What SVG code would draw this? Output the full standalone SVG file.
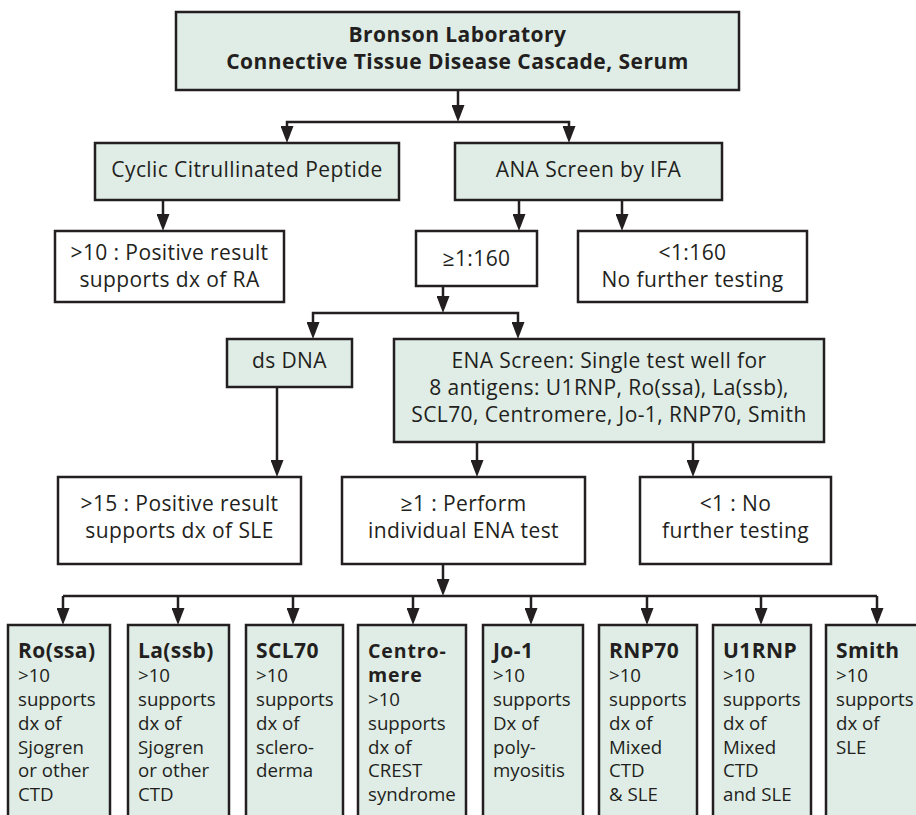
<svg xmlns="http://www.w3.org/2000/svg" width="916" height="815" viewBox="0 0 916 815">
<style>
.g{fill:#dfede6;stroke:#231f20;stroke-width:2.5}
.w{fill:#ffffff;stroke:#231f20;stroke-width:2.5}
text{font-family:"Open Sans","Noto Sans","Liberation Sans",sans-serif;fill:#231f20}
.m{font-size:21px;letter-spacing:0.4px;text-anchor:middle}
.t{font-size:21px;letter-spacing:0.45px;font-weight:bold;text-anchor:middle}
.s{font-size:18.7px}
.b{font-size:21px;letter-spacing:0.4px;font-weight:bold}
.bc{font-size:19.5px;letter-spacing:0.9px;font-weight:bold}
.c{fill:none;stroke:#231f20;stroke-width:2.5}
</style>
<defs>
<marker id="ah" markerUnits="userSpaceOnUse" viewBox="0 0 17 13" markerWidth="17" markerHeight="13" refX="9" refY="6.5" orient="auto">
<path d="M0,0 L17,6.5 L0,13 z" fill="#231f20"/>
</marker>
</defs>
<rect width="916" height="815" fill="#ffffff"/>
<g id="connectors">
<path class="c" d="M458,90 V114" marker-end="url(#ah)"/>
<path class="c" d="M458,122 H287 V135" marker-end="url(#ah)"/>
<path class="c" d="M458,122 H569 V135" marker-end="url(#ah)"/>
<path class="c" d="M163,200 V223" marker-end="url(#ah)"/>
<path class="c" d="M519,200 V223" marker-end="url(#ah)"/>
<path class="c" d="M622,200 V223" marker-end="url(#ah)"/>
<path class="c" d="M443,286 V305" marker-end="url(#ah)"/>
<path class="c" d="M443,313 H313 V331" marker-end="url(#ah)"/>
<path class="c" d="M443,313 H518 V331" marker-end="url(#ah)"/>
<path class="c" d="M277,387 V469" marker-end="url(#ah)"/>
<path class="c" d="M477,442 V469" marker-end="url(#ah)"/>
<path class="c" d="M693,442 V469" marker-end="url(#ah)"/>
<path class="c" d="M443,564 V588" marker-end="url(#ah)"/>
<path class="c" d="M63,596 H877"/>
<path class="c" d="M63,596 V617" marker-end="url(#ah)"/>
<path class="c" d="M178,596 V617" marker-end="url(#ah)"/>
<path class="c" d="M293,596 V617" marker-end="url(#ah)"/>
<path class="c" d="M413,596 V617" marker-end="url(#ah)"/>
<path class="c" d="M531,596 V617" marker-end="url(#ah)"/>
<path class="c" d="M647,596 V617" marker-end="url(#ah)"/>
<path class="c" d="M761,596 V617" marker-end="url(#ah)"/>
<path class="c" d="M877,596 V617" marker-end="url(#ah)"/>
</g>
<g id="title">
<rect class="g" x="176" y="12" width="563" height="78"/>
<text class="t" x="457.5" y="41.5">Bronson Laboratory</text>
<text class="t" x="457.5" y="68.5">Connective Tissue Disease Cascade, Serum</text>
</g>
<g id="ccp">
<rect class="g" x="95" y="143" width="304" height="57"/>
<text class="m" x="247" y="177">Cyclic Citrullinated Peptide</text>
</g>
<g id="ana">
<rect class="g" x="455" y="143" width="267" height="57"/>
<text class="m" x="588.5" y="177">ANA Screen by IFA</text>
</g>
<g id="ccp-pos">
<rect class="w" x="55" y="231" width="229" height="71"/>
<text class="m" x="169.5" y="260">&gt;10 : Positive result</text>
<text class="m" x="169.5" y="287">supports dx of RA</text>
</g>
<g id="ana-pos">
<rect class="w" x="416" y="231" width="121" height="55"/>
<text class="m" x="476.5" y="266">≥1:160</text>
</g>
<g id="ana-neg">
<rect class="w" x="578" y="231" width="229" height="71"/>
<text class="m" x="692.5" y="260">&lt;1:160</text>
<text class="m" x="692.5" y="287">No further testing</text>
</g>
<g id="dsdna">
<rect class="g" x="227" y="339" width="125" height="48"/>
<text class="m" x="289.5" y="368">ds DNA</text>
</g>
<g id="ena">
<rect class="g" x="394" y="339" width="430" height="103"/>
<text class="m" x="609" y="368">ENA Screen: Single test well for</text>
<text class="m" x="609" y="395">8 antigens: U1RNP, Ro(ssa), La(ssb),</text>
<text class="m" x="609" y="422">SCL70, Centromere, Jo-1, RNP70, Smith</text>
</g>
<g id="dsdna-pos">
<rect class="w" x="58" y="477" width="243" height="87"/>
<text class="m" x="179.5" y="511">&gt;15 : Positive result</text>
<text class="m" x="179.5" y="538">supports dx of SLE</text>
</g>
<g id="ena-pos">
<rect class="w" x="342" y="477" width="243" height="87"/>
<text class="m" x="463.5" y="511">≥1 : Perform</text>
<text class="m" x="463.5" y="538">individual ENA test</text>
</g>
<g id="ena-neg">
<rect class="w" x="640" y="477" width="191" height="87"/>
<text class="m" x="735.5" y="511">&lt;1 : No</text>
<text class="m" x="735.5" y="538">further testing</text>
</g>
<g id="ro">
<rect class="g" x="8" y="625" width="102" height="210"/>
<text class="b" x="18" y="658">Ro(ssa)</text>
<text class="s" x="18" y="682">&gt;10</text>
<text class="s" x="18" y="706">supports</text>
<text class="s" x="18" y="730">dx of</text>
<text class="s" x="18" y="754">Sjogren</text>
<text class="s" x="18" y="777">or other</text>
<text class="s" x="18" y="801">CTD</text>
</g>
<g id="la">
<rect class="g" x="128" y="625" width="101" height="210"/>
<text class="b" x="138" y="658">La(ssb)</text>
<text class="s" x="138" y="682">&gt;10</text>
<text class="s" x="138" y="706">supports</text>
<text class="s" x="138" y="730">dx of</text>
<text class="s" x="138" y="754">Sjogren</text>
<text class="s" x="138" y="777">or other</text>
<text class="s" x="138" y="801">CTD</text>
</g>
<g id="scl70">
<rect class="g" x="246" y="625" width="97" height="210"/>
<text class="b" x="256" y="658">SCL70</text>
<text class="s" x="256" y="682">&gt;10</text>
<text class="s" x="256" y="706">supports</text>
<text class="s" x="256" y="730">dx of</text>
<text class="s" x="256" y="754">sclero-</text>
<text class="s" x="256" y="777">derma</text>
</g>
<g id="centromere">
<rect class="g" x="358" y="625" width="108" height="210"/>
<text class="bc" x="368" y="657.5">Centro-</text>
<text class="bc" x="368" y="682">mere</text>
<text class="s" x="368" y="706">&gt;10</text>
<text class="s" x="368" y="730">supports</text>
<text class="s" x="368" y="754">dx of</text>
<text class="s" x="368" y="777">CREST</text>
<text class="s" x="368" y="801">syndrome</text>
</g>
<g id="jo1">
<rect class="g" x="483" y="625" width="100" height="210"/>
<text class="b" x="493" y="658">Jo-1</text>
<text class="s" x="493" y="682">&gt;10</text>
<text class="s" x="493" y="706">supports</text>
<text class="s" x="493" y="730">Dx of</text>
<text class="s" x="493" y="754">poly-</text>
<text class="s" x="493" y="777">myositis</text>
</g>
<g id="rnp70">
<rect class="g" x="599" y="625" width="98" height="210"/>
<text class="b" x="609" y="658">RNP70</text>
<text class="s" x="609" y="682">&gt;10</text>
<text class="s" x="609" y="706">supports</text>
<text class="s" x="609" y="730">dx of</text>
<text class="s" x="609" y="754">Mixed</text>
<text class="s" x="609" y="777">CTD</text>
<text class="s" x="609" y="801">&amp; SLE</text>
</g>
<g id="u1rnp">
<rect class="g" x="713" y="625" width="98" height="210"/>
<text class="b" x="723" y="658">U1RNP</text>
<text class="s" x="723" y="682">&gt;10</text>
<text class="s" x="723" y="706">supports</text>
<text class="s" x="723" y="730">dx of</text>
<text class="s" x="723" y="754">Mixed</text>
<text class="s" x="723" y="777">CTD</text>
<text class="s" x="723" y="801">and SLE</text>
</g>
<g id="smith">
<rect class="g" x="826" y="625" width="110" height="210"/>
<text class="b" x="836" y="658">Smith</text>
<text class="s" x="836" y="682">&gt;10</text>
<text class="s" x="836" y="706">supports</text>
<text class="s" x="836" y="730">dx of</text>
<text class="s" x="836" y="754">SLE</text>
</g>
</svg>
